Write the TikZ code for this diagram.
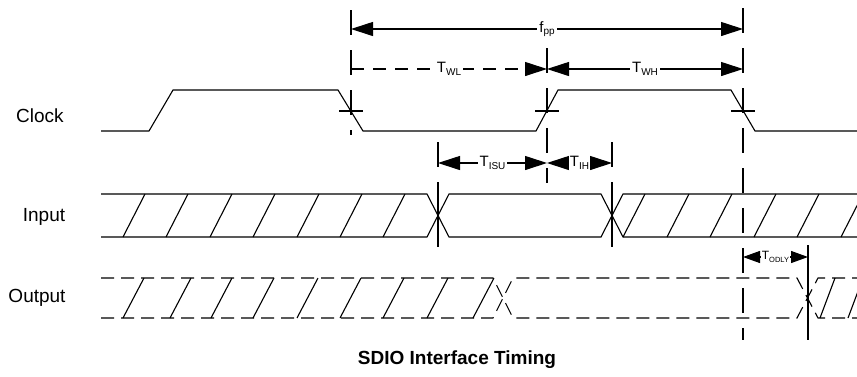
\documentclass[tikz,border=0pt]{standalone}
\usepackage{fontspec}
\setmainfont{Liberation Sans}
\usetikzlibrary{arrows.meta}
\newcommand{\tsig}[3][10]{#2\raisebox{-2.5pt}{\fontsize{#1}{#1}\selectfont #3}}

\begin{document}
\begin{tikzpicture}[x=1pt, y=-1pt, line width=1.1pt,
	busline/.style={dash pattern=on 13pt off 7pt},
	guide/.style={dash pattern=on 25pt off 15pt},
	both/.style={{Triangle[length=22pt,width=14pt]}-{Triangle[length=22pt,width=14pt]}},
	onlyend/.style={-{Triangle[length=22pt,width=14pt]}},
	smallboth/.style={{Triangle[length=17pt,width=12pt]}-{Triangle[length=17pt,width=12pt]}},
	lbl/.style={fill=white, inner sep=2pt, font=\fontsize{15}{15}\selectfont},
	signame/.style={font=\fontsize{19}{20}\selectfont}]
	\useasboundingbox (0,0) rectangle (857,376);
	\clip (0,0) rectangle (857,376);

	% signal names
	\node[signame] (clk) at (40,116) {Clock};
	\node[signame] (din) at (44,217) {Input};
	\node[signame] (dout) at (37,298) {Output};

	% edge guides
	\draw[guide] (351,10) -- (351,135);
	\draw[guide] (547,48) -- (547,183);
	\draw[guide] (743,8) -- (743,340);
	\draw[dash pattern=on 25pt off 15pt on 65pt off 15pt] (438,142) -- (438,247);
	\draw[dash pattern=on 25pt off 15pt on 65pt off 15pt] (612,142) -- (612,247);
	\draw (808,245) -- (808,340);

	% clock
	\draw[line join=miter] (101,131) -- (149,131) -- (173,90) -- (338,90) -- (363,131)
		-- (536,131) -- (558,90) -- (731,90) -- (755,131) -- (857,131);
	\foreach \x in {351,547,743}
		\draw ({\x-12},111) -- ({\x+12},111);

	% input
	\draw (101,194) -- (427,194) -- (449,237) -- (601,237) -- (623,194) -- (857,194);
	\draw (101,237) -- (427,237) -- (449,194) -- (601,194) -- (623,237) -- (857,237);
	\foreach \b in {123,166,210,253,297,340,383,623,667,710,754,797,841}
		\draw (\b,237) -- ({\b+22},194);

	% output
	\draw[busline] (101,278) -- (493,278) -- (513,318) -- (797,318) -- (818,278) -- (857,278);
	\draw[busline] (101,318) -- (493,318) -- (513,278) -- (797,278) -- (818,318) -- (857,318);
	\foreach \b in {123,170,211,253,297,340,383,427,473}
		\draw (\b,318) -- ({\b+21},278);
	\foreach \b in {820,848}
		\draw (\b,318) -- ({\b+15},278);

	% timing parameters
	\coordinate (fpl) at (351,29); \coordinate (fpr) at (743,29);
	\coordinate (wl) at (351,69); \coordinate (wm) at (547,69); \coordinate (wh) at (743,69);
	\coordinate (su) at (438,163); \coordinate (sm) at (547,163); \coordinate (ih) at (612,163);
	\coordinate (dl) at (743,257); \coordinate (dr) at (808,257);
	\draw[both] (fpl) -- (fpr) node[midway, lbl] {\tsig{f}{pp}};
	\draw[onlyend, dash pattern=on 13pt off 9pt] (wl) -- (wm) node[midway, lbl] {\tsig{T}{WL}};
	\draw[both] (wm) -- (wh) node[midway, lbl] {\tsig{T}{WH}};
	\draw[both] (su) -- (sm) node[midway, lbl] {\tsig{T}{ISU}};
	\draw[both] (sm) -- (ih) node[midway, lbl, inner sep=0.5pt] {\tsig{T}{IH}};
	\draw[smallboth] (dl) -- (dr) node[midway, lbl, inner sep=0.5pt, font=\fontsize{12}{12}\selectfont] {\tsig[7.5]{T}{ODLY}};

	\node[font=\bfseries\fontsize{19}{20}\selectfont] (title) at (457,360) {SDIO Interface Timing};
\end{tikzpicture}
\end{document}
